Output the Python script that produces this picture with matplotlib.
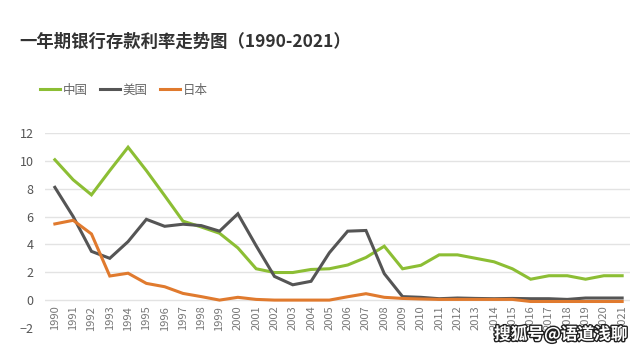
import numpy as np
import matplotlib.pyplot as plt
import matplotlib.patheffects as pe

plt.rcParams['font.family'] = ['Noto Sans CJK SC', 'DejaVu Sans']

years = np.arange(1990, 2022)
china = [10.08, 8.64, 7.56, 9.3, 10.98, 9.3, 7.5, 5.67, 5.25, 4.8, 3.75, 2.25,
         1.98, 1.98, 2.2, 2.25, 2.52, 3.06, 3.87, 2.25, 2.5, 3.25, 3.25, 3.0,
         2.75, 2.25, 1.5, 1.75, 1.75, 1.5, 1.75, 1.75]
usa = [8.1, 6.0, 3.5, 3.0, 4.2, 5.8, 5.3, 5.45, 5.35, 4.95, 6.2, 3.9,
       1.7, 1.1, 1.35, 3.4, 4.95, 5.0, 1.9, 0.25, 0.2, 0.1, 0.15, 0.12,
       0.1, 0.12, 0.1, 0.1, 0.05, 0.15, 0.15, 0.15]
japan = [5.47, 5.73, 4.75, 1.73, 1.93, 1.2, 0.96, 0.48, 0.25, 0.0, 0.2, 0.05,
         0.0, 0.0, 0.0, 0.0, 0.24, 0.46, 0.2, 0.12, 0.08, 0.05, 0.05, 0.05,
         0.05, 0.05, -0.1, -0.1, -0.1, -0.1, -0.1, -0.1]
names = ['中国', '美国', '日本']
colors = ['#8CBE34', '#555555', '#E07A2E']

fig = plt.figure(figsize=(6.4, 3.5), dpi=100)
ax = fig.add_axes([0.07, 0.063, 0.915, 0.557])

# year labels hang from the zero line, like the category axis in the original
# (set this first: moving the spine resets the tick labels)
ax.spines['bottom'].set_position(('data', 0))

for vals, name, c in zip([china, usa, japan], names, colors):
    ax.plot(years, vals, color=c, lw=2.2, label=name, solid_joinstyle='miter')

ax.set_xlim(1989.45, 2021.45)
ax.set_ylim(-2, 12)
ax.set_yticks(np.arange(-2, 13, 2))
ax.set_xticks(years)
ax.set_xticklabels([str(y) for y in years], rotation=90, fontsize=8, color='#777777')
ax.tick_params(axis='y', labelsize=9, labelcolor='#555555', length=0, pad=8)
ax.tick_params(axis='x', length=0, pad=4)
ax.yaxis.grid(True, color='#E3E3E3', lw=1)
ax.set_axisbelow(True)
ax.yaxis.get_gridlines()[0].set_visible(False)
for s in ax.spines.values():
    s.set_visible(False)

fig.text(0.03, 0.88, '一年期银行存款利率走势图（1990-2021）', fontsize=12.5,
         fontweight='bold', color='#333333', va='center')
fig.legend(loc='center left', bbox_to_anchor=(0.045, 0.742), ncol=3, frameon=False,
           fontsize=9, handlelength=1.6, handletextpad=0.2, columnspacing=1.0,
           labelcolor='#666666')

fig.text(0.98, 0.045, '搜狐号@语道浅聊', fontsize=12, fontweight='bold', color='white',
         ha='right', va='center',
         path_effects=[pe.withStroke(linewidth=2, foreground='#222222')])

fig.savefig('out.png', dpi=100)
